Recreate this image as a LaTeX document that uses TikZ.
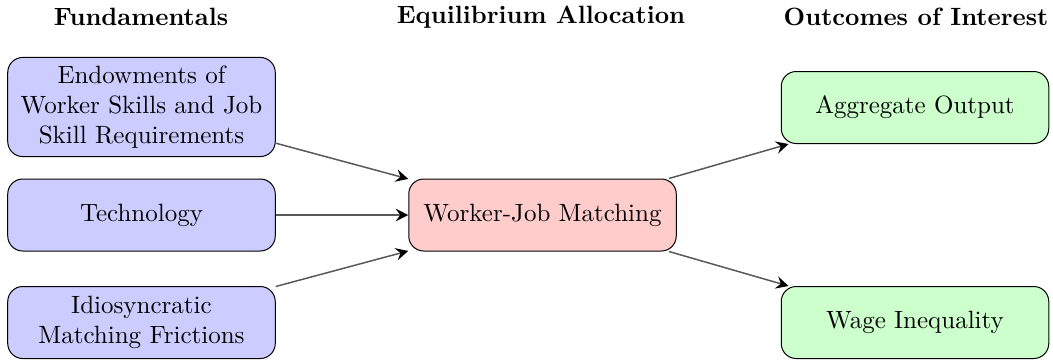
\documentclass[tikz,border=0pt]{standalone}
\usetikzlibrary{arrows.meta}
\begin{document}
\begin{tikzpicture}[x=0.4pt,y=-0.4pt,
  box/.style={draw=black, rounded corners=6pt, align=center, text width=99pt,
    minimum width=107pt, minimum height=28.8pt, inner xsep=4pt, inner ysep=3.33pt},
  fund/.style={box, fill=blue!20},
  eq/.style={box, fill=red!20},
  outc/.style={box, fill=green!20},
  hdr/.style={font=\bfseries},
  link/.style={draw=black!65, semithick, -{Stealth[black,length=5pt,width=5pt,inset=1.8pt]}}
]
\useasboundingbox (0,0) rectangle (1053,362);
\node[hdr] (h1) at (141,17) {Fundamentals};
\node[hdr] (h2) at (541,17) {Equilibrium Allocation};
\node[hdr] (h3) at (916,17) {Outcomes of Interest};

\node[fund] (E) at (141.5,107) {Endowments of Worker Skills and Job Skill Requirements};
\node[fund] (T) at (141.5,215) {Technology};
\node[fund] (I) at (141.5,322.5) {Idiosyncratic Matching Frictions};
\node[eq] (M) at (542.5,215) {Worker-Job Matching};
\node[outc] (A) at (915,107.5) {Aggregate Output};
\node[outc] (W) at (915,322.5) {Wage Inequality};

\draw[link] (E) -- (M);
\draw[link] (T) -- (M);
\draw[link] (I) -- (M);
\draw[link] (M) -- (A);
\draw[link] (M) -- (W);
\end{tikzpicture}
\end{document}
